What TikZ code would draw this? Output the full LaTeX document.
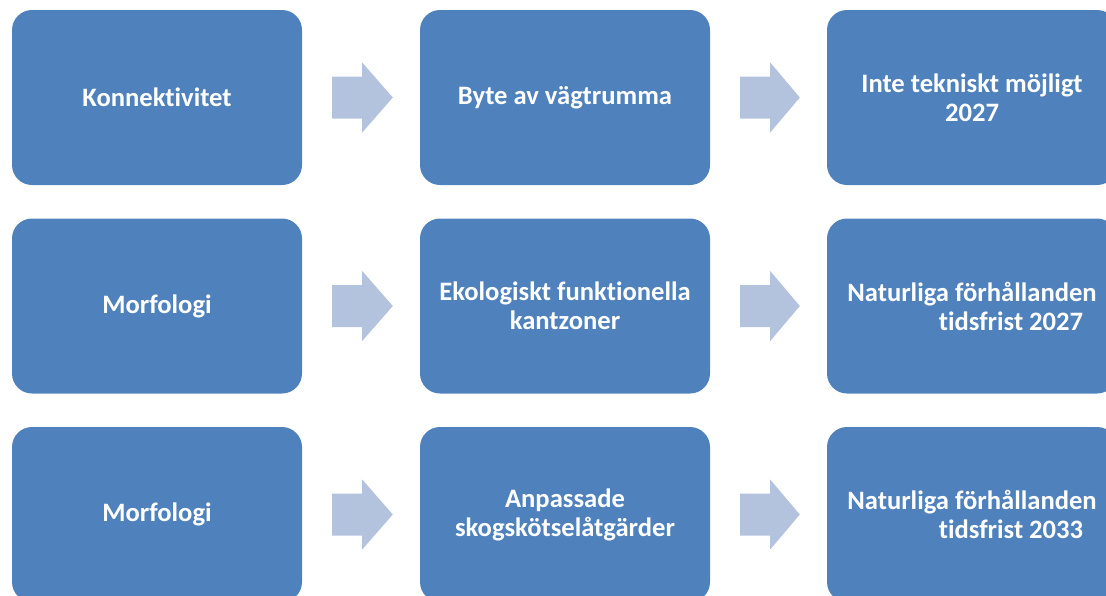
\documentclass[tikz,border=0pt]{standalone}
\usepackage{fontspec}
\setmainfont[Ligatures={NoCommon}]{Carlito}
\usetikzlibrary{calc}
\definecolor{boxblue}{HTML}{4F81BD}
\definecolor{arrowblue}{HTML}{B3C3DE}
\tikzset{
  stagebox/.style={fill=boxblue, draw=none, rounded corners=20pt,
    minimum width=290pt, minimum height=175pt, inner sep=0pt,
    text=white, align=center, font=\fontsize{26.6}{29}\selectfont\bfseries},
  blockarrow/.style={fill=arrowblue, draw=none}
}
\newcommand{\blockarr}[2]{%
  \fill[blockarrow] ($(#1.east)+(30pt,21pt)$) -- ($(#1.east)+(60pt,21pt)$)
    -- ($(#1.east)+(60pt,35pt)$) -- ($(#2.west)+(-27pt,0pt)$)
    -- ($(#1.east)+(60pt,-35pt)$) -- ($(#1.east)+(60pt,-21pt)$)
    -- ($(#1.east)+(30pt,-21pt)$) -- cycle;}
\begin{document}
\begin{tikzpicture}[x=1pt,y=-1pt]
\useasboundingbox (0,0) rectangle (1106,595);
\begin{scope}
\clip (0,0) rectangle (1106,595);
\node[stagebox] (a1) at (157,97.5) {Konnektivitet};
\node[stagebox] (b1) at (565,97.5) {Byte av vägtrumma};
\node[stagebox] (c1) at (972,97.5) {Inte tekniskt möjligt\\2027};
\node[stagebox] (a2) at (157,306) {Morfologi};
\node[stagebox] (b2) at (565,306) {Ekologiskt funktionella\\kantzoner};
\node[stagebox] (c2) at (972,306) {Naturliga förhållanden\\\hspace*{78pt}tidsfrist 2027};
\node[stagebox] (a3) at (157,514.5) {Morfologi};
\node[stagebox] (b3) at (565,514.5) {Anpassade\\skogskötselåtgärder};
\node[stagebox] (c3) at (972,514.5) {Naturliga förhållanden\\\hspace*{78pt}tidsfrist 2033};
\blockarr{a1}{b1}
\blockarr{b1}{c1}
\blockarr{a2}{b2}
\blockarr{b2}{c2}
\blockarr{a3}{b3}
\blockarr{b3}{c3}
\end{scope}
\end{tikzpicture}
\end{document}
